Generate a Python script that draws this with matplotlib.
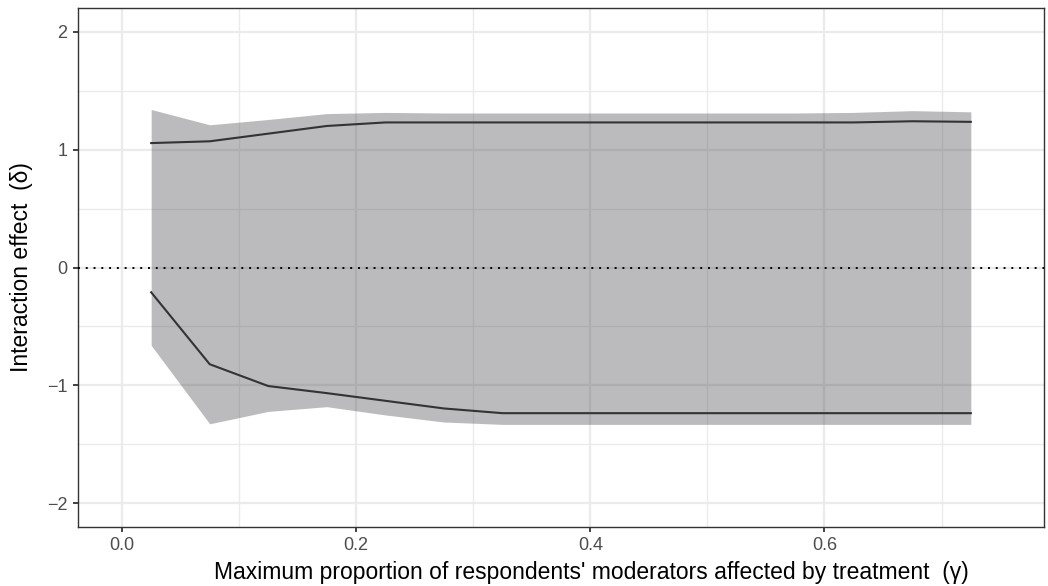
import matplotlib
matplotlib.use("Agg")
import matplotlib.pyplot as plt
import numpy as np

plt.rcParams['font.family'] = ['Liberation Sans', 'DejaVu Sans']

gamma = [0.025, 0.075, 0.125, 0.175, 0.225, 0.275, 0.325, 0.375,
         0.425, 0.475, 0.525, 0.575, 0.625, 0.675, 0.725]
upper_line = [1.055, 1.07, 1.135, 1.20, 1.23, 1.23, 1.23, 1.23,
              1.23, 1.23, 1.23, 1.23, 1.23, 1.24, 1.235]
upper_hi = [1.34, 1.21, 1.255, 1.305, 1.315, 1.31, 1.31, 1.31,
            1.31, 1.31, 1.31, 1.31, 1.315, 1.33, 1.32]
lower_line = [-0.21, -0.82, -1.005, -1.065, -1.13, -1.195, -1.235, -1.235,
              -1.235, -1.235, -1.235, -1.235, -1.235, -1.235, -1.235]
lower_lo = [-0.66, -1.325, -1.22, -1.18, -1.25, -1.31, -1.33, -1.33,
            -1.33, -1.33, -1.33, -1.33, -1.33, -1.33, -1.33]

fig = plt.figure(figsize=(10.48, 5.86), dpi=100)
ax = fig.add_axes([0.0744, 0.1007, 0.9218, 0.8856])

ax.fill_between(gamma, lower_lo, upper_hi, color='#333338', alpha=0.33,
                linewidth=0, zorder=3)
ax.plot(gamma, upper_line, color='#333333', lw=1.5, zorder=4)
ax.plot(gamma, lower_line, color='#333333', lw=1.5, zorder=4)
ax.axhline(0, color='black', lw=1.4, linestyle=(0, (1, 3)), zorder=5)

ax.set_xlim(-0.0375, 0.7875)
ax.set_ylim(-2.2, 2.2)
ax.set_xticks([0.0, 0.2, 0.4, 0.6])
ax.set_xticklabels(['0.0', '0.2', '0.4', '0.6'])
ax.set_xticks([0.1, 0.3, 0.5, 0.7], minor=True)
ax.set_yticks([-2, -1, 0, 1, 2])
ax.set_yticklabels(['\u22122', '\u22121', '0', '1', '2'])
ax.set_yticks([-1.5, -0.5, 0.5, 1.5], minor=True)

ax.grid(which='major', color='#EBEBEB', lw=1.6, zorder=0)
ax.grid(which='minor', color='#EBEBEB', lw=1.0, zorder=0)
ax.set_axisbelow(True)
ax.tick_params(which='major', length=3.5, width=1.3, color='#333333',
               labelsize=13, labelcolor='#4D4D4D', pad=4)
ax.tick_params(which='minor', length=0)
for s in ax.spines.values():
    s.set_color('#333333')
    s.set_linewidth(1.0)

ax.set_xlabel("Maximum proportion of respondents' moderators affected by treatment  (\u03b3)",
              fontsize=16.5)
ax.set_ylabel("Interaction effect  (\u03b4)", fontsize=16.5)
ax.xaxis.set_label_coords(0.531, -0.065)
ax.yaxis.set_label_coords(-0.047, 0.5)

fig.savefig('out.png', dpi=100)
